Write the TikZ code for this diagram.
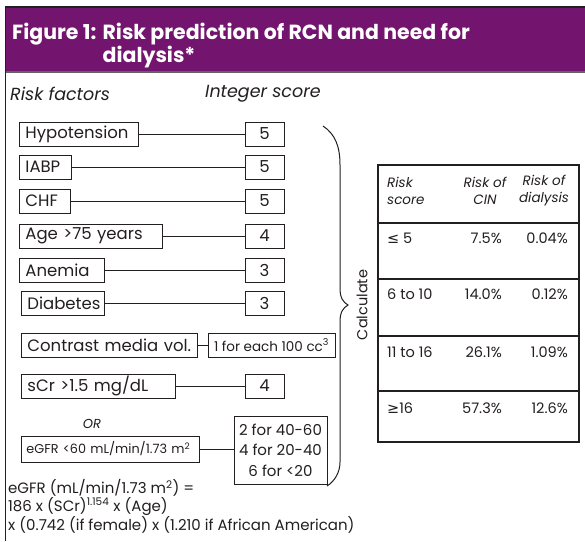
\documentclass[tikz,border=0pt]{standalone}
\usepackage{fontspec}
\setmainfont{Poppins}
\newfontfamily\symfont{DejaVu Sans}
\definecolor{hdrpurple}{RGB}{115,21,110}
\definecolor{ink}{RGB}{35,31,32}
\begin{document}
\begin{tikzpicture}[x=1pt,y=1pt,
    box/.style={draw=ink,line width=0.9pt,inner sep=0pt,minimum height=24pt,text=ink,font=\fontsize{16.5}{19}\selectfont},
    factor/.style={box,anchor=west,inner xsep=6pt,text width=#1,align=left},
    score/.style={box,minimum width=39pt},
    link/.style={draw=ink,line width=0.8pt},
    lbl/.style={text=ink,inner sep=0pt,font=\itshape\fontsize{17.5}{20}\selectfont},
    th/.style={text=ink,inner sep=0pt,font=\itshape\fontsize{13.5}{17}\selectfont},
    td/.style={text=ink,inner sep=0pt,font=\fontsize{14.5}{17}\selectfont}
]
\useasboundingbox (0,0) rectangle (585,-541);
\fill[white] (0,0) rectangle (585,-541);
\fill[hdrpurple] (5,-7) rectangle (585,-72);
\draw[ink,line width=1.2pt] (5,-7) -- (585,-7);
\draw[ink!70,line width=1.2pt] (5,-72) -- (585,-72);
\draw[ink,line width=1.2pt] (5.5,-7) -- (5.5,-541);
\node[anchor=base west,inner sep=0pt,text=white,font=\bfseries\fontsize{20.5}{23}\selectfont] (title) at (12,-39)
  {\begin{tabular}[t]{@{}l@{\hspace{0.3em}}l@{}}Figure 1: & Risk prediction of RCN and need for\\ & dialysis*\end{tabular}};
\node[lbl,anchor=west] (riskf) at (10,-94) {Risk factors};
\node[lbl,anchor=west] (intsc) at (205,-94) {Integer score};
\node[factor=107pt] (hypo) at (19,-134) {Hypotension};
\node[factor=40pt] (iabp) at (19,-167) {IABP};
\node[factor=39pt] (chf) at (19,-201) {CHF};
\node[factor=131pt] (age) at (19,-236) {Age >75 years};
\node[factor=73pt] (anemia) at (19,-270) {Anemia};
\node[factor=71pt] (diab) at (21,-303) {Diabetes};
\node[factor=164pt] (contr) at (21,-345) {Contrast media vol.};
\node[factor=142pt] (scr) at (21,-386) {sCr >1.5 mg/dL};
\node[factor=168pt,inner xsep=5pt,minimum height=26pt,font=\fontsize{12.8}{14}\selectfont] (egfr) at (21,-449) {eGFR <60 mL/min/1.73 m\textsuperscript{2}};
\node[score] (s1) at (264.5,-134) {5};
\node[score] (s2) at (264.5,-167) {5};
\node[score] (s3) at (264.5,-201) {5};
\node[score] (s4) at (264.5,-236) {4};
\node[score] (s5) at (264.5,-270) {3};
\node[score] (s6) at (264.5,-303) {3};
\node[box,minimum width=127pt,font=\fontsize{13.5}{15}\selectfont] (s7) at (271.5,-345) {1 for each 100 cc\textsuperscript{3}};
\node[score] (s8) at (264.5,-386) {4};
\node[box,minimum width=93pt,minimum height=68pt,align=center,font=\fontsize{15}{20.5}\selectfont] (s9) at (280.5,-450) {2 for 40-60\\4 for 20-40\\6 for <20};
\node[lbl,font=\itshape\fontsize{13}{15}\selectfont] (or) at (92,-424) {OR};
\draw[link] (hypo) -- (s1);
\draw[link] (iabp) -- (s2);
\draw[link] (chf) -- (s3);
\draw[link] (age) -- (s4);
\draw[link] (anemia) -- (s5);
\draw[link] (diab) -- (s6);
\draw[link] (contr) -- (s7);
\draw[link] (scr) -- (s8);
\draw[link] (egfr) -- (egfr -| s9.west);
\node[anchor=north west,inner sep=0pt,text=ink,align=left,font=\fontsize{15}{16}\selectfont] (formula) at (8,-479)
  {eGFR (mL/min/1.73 m\textsuperscript{2}) =\\186 x (SCr)\textsuperscript{1.154} x (Age)\\x (0.742 (if female) x (1.210 if African American)};
\draw[ink,line width=1pt] (323,-126) .. controls (335,-134) and (340,-146) .. (340,-165) -- (340,-288)
  .. controls (340,-298) and (343,-302) .. (348,-305) .. controls (343,-308) and (340,-312) .. (340,-322)
  -- (340,-462) .. controls (340,-472) and (335,-481) .. (327,-486);
\node[text=ink,inner sep=0pt,rotate=90,font=\fontsize{14.5}{17}\selectfont] (calc) at (362,-305) {Calculate};
\draw[ink,line width=1.2pt] (378,-165) rectangle (579,-442);
\foreach \yy in {223,279,336,391}
  \draw[ink,line width=1.2pt] (378,-\yy) -- (579,-\yy);
\node[th,anchor=west,align=left] (hrs) at (387,-191) {Risk\\score};
\node[th,align=center] (hcin) at (485,-191) {Risk of\\CIN};
\node[th,align=center] (hdia) at (544,-191) {Risk of\\dialysis};
\node[td,anchor=west] (r1a) at (387,-238) {{\symfont ≤} 5};
\node[td,anchor=east] (r1b) at (502,-238) {7.5\%};
\node[td,anchor=east] (r1c) at (568,-238) {0.04\%};
\node[td,anchor=west] (r2a) at (387,-294) {6 to 10};
\node[td,anchor=east] (r2b) at (502,-294) {14.0\%};
\node[td,anchor=east] (r2c) at (568,-294) {0.12\%};
\node[td,anchor=west] (r3a) at (387,-352) {11 to 16};
\node[td,anchor=east] (r3b) at (502,-352) {26.1\%};
\node[td,anchor=east] (r3c) at (568,-352) {1.09\%};
\node[td,anchor=west] (r4a) at (387,-408) {{\symfont ≥}16};
\node[td,anchor=east] (r4b) at (502,-408) {57.3\%};
\node[td,anchor=east] (r4c) at (568,-408) {12.6\%};
\end{tikzpicture}
\end{document}
